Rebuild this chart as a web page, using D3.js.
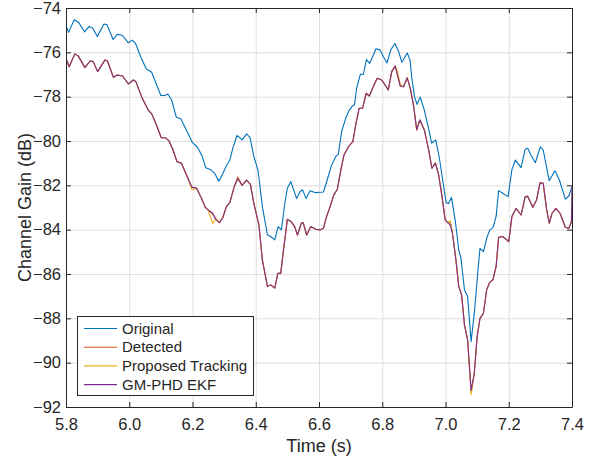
<!DOCTYPE html>
<html>
<head>
<meta charset="utf-8">
<script src="https://cdn.jsdelivr.net/npm/d3@7"></script>
<style>
body { margin: 0; background: #fff; }
svg { font-family: "Liberation Sans", Arial, sans-serif; }
</style>
</head>
<body>
<script>
// tick labels
var xTicks = [5.8, 6.0, 6.2, 6.4, 6.6, 6.8, 7.0, 7.2, 7.4];
var yTicks = [-92, -90, -88, -86, -84, -82, -80, -78, -76, -74];

// Original channel gain
var origT = [5.800, 5.808, 5.826, 5.840, 5.859, 5.873, 5.884, 5.899, 5.920, 5.930,
  5.949, 5.962, 5.978, 5.997, 6.010, 6.020, 6.037, 6.054, 6.071, 6.086,
  6.100, 6.112, 6.122, 6.134, 6.149, 6.163, 6.182, 6.199, 6.215, 6.230,
  6.242, 6.258, 6.270, 6.283, 6.295, 6.306, 6.318, 6.328, 6.341, 6.357,
  6.371, 6.382, 6.394, 6.407, 6.421, 6.437, 6.447, 6.460, 6.471, 6.481,
  6.492, 6.500, 6.511, 6.529, 6.540, 6.548, 6.559, 6.572, 6.589, 6.603,
  6.614, 6.624, 6.640, 6.654, 6.661, 6.672, 6.685, 6.695, 6.707, 6.712,
  6.719, 6.731, 6.740, 6.750, 6.760, 6.772, 6.780, 6.793, 6.803, 6.815,
  6.827, 6.840, 6.852, 6.862, 6.879, 6.888, 6.893, 6.902, 6.910, 6.920,
  6.932, 6.946, 6.956, 6.969, 6.981, 6.992, 7.002, 7.010, 7.019, 7.031,
  7.042, 7.049, 7.060, 7.070, 7.081, 7.091, 7.102, 7.109, 7.120, 7.130,
  7.140, 7.150, 7.160, 7.168, 7.181, 7.198, 7.210, 7.221, 7.239, 7.252,
  7.260, 7.270, 7.284, 7.300, 7.309, 7.328, 7.346, 7.360, 7.379, 7.390,
  7.400];
var origGain = [-74.77, -75.10, -74.53, -74.65, -75.08, -74.83, -74.90, -75.28, -74.72, -74.76,
  -75.42, -75.19, -75.23, -75.57, -75.45, -75.60, -76.23, -76.75, -76.90, -77.45,
  -77.95, -77.95, -77.88, -78.15, -78.93, -79.00, -79.55, -80.05, -80.27, -80.66,
  -81.21, -81.30, -81.46, -81.81, -81.50, -81.15, -80.86, -80.30, -79.75, -79.95,
  -79.68, -79.85, -80.70, -81.31, -82.96, -84.24, -84.31, -84.46, -83.86, -84.01,
  -82.81, -82.13, -81.83, -82.59, -82.29, -82.20, -82.59, -82.24, -82.33, -82.31,
  -82.30, -81.85, -81.08, -80.68, -80.59, -79.55, -78.95, -78.62, -78.40, -78.38,
  -77.62, -76.98, -77.00, -76.33, -76.50, -76.12, -75.84, -75.89, -76.18, -76.48,
  -75.89, -75.60, -75.97, -76.45, -76.03, -76.35, -77.10, -78.00, -78.35, -78.02,
  -78.55, -79.40, -80.10, -79.95, -80.80, -81.85, -82.78, -82.82, -82.54, -83.60,
  -84.92, -85.29, -86.72, -87.02, -89.05, -87.77, -85.97, -84.84, -84.99, -84.40,
  -84.01, -83.92, -83.41, -82.24, -82.36, -82.51, -81.28, -80.86, -81.20, -80.37,
  -80.33, -80.63, -80.98, -80.26, -80.41, -81.79, -81.34, -81.76, -82.62, -82.48,
  -82.06];

// Estimates (detected, tracked, GM-PHD EKF) share one time base
var estT = [5.800, 5.801, 5.810, 5.828, 5.839, 5.860, 5.876, 5.886, 5.900, 5.923,
  5.931, 5.950, 5.962, 5.979, 5.997, 6.013, 6.021, 6.039, 6.059, 6.072,
  6.086, 6.101, 6.114, 6.125, 6.137, 6.151, 6.165, 6.181, 6.198, 6.213,
  6.229, 6.240, 6.249, 6.264, 6.275, 6.285, 6.296, 6.307, 6.318, 6.332,
  6.343, 6.357, 6.371, 6.383, 6.394, 6.410, 6.421, 6.437, 6.447, 6.460,
  6.470, 6.479, 6.489, 6.500, 6.512, 6.523, 6.532, 6.544, 6.550, 6.561,
  6.574, 6.590, 6.603, 6.614, 6.624, 6.635, 6.647, 6.658, 6.669, 6.679,
  6.693, 6.707, 6.717, 6.727, 6.738, 6.749, 6.759, 6.774, 6.784, 6.798,
  6.809, 6.819, 6.830, 6.841, 6.848, 6.857, 6.867, 6.879, 6.889, 6.899,
  6.909, 6.919, 6.933, 6.947, 6.957, 6.968, 6.978, 6.989, 6.999, 7.007,
  7.015, 7.022, 7.033, 7.042, 7.051, 7.060, 7.070, 7.081, 7.091, 7.100,
  7.109, 7.120, 7.130, 7.139, 7.150, 7.160, 7.168, 7.181, 7.200, 7.210,
  7.223, 7.239, 7.252, 7.260, 7.276, 7.288, 7.299, 7.309, 7.320, 7.328,
  7.337, 7.349, 7.362, 7.379, 7.390, 7.398, 7.400];

var detGain = [-76.32, -76.32, -76.65, -76.07, -76.17, -76.69, -76.39, -76.42, -76.87, -76.35,
  -76.39, -77.13, -77.02, -77.07, -77.43, -77.25, -77.32, -78.00, -78.58, -78.80,
  -79.28, -79.85, -79.85, -79.98, -80.35, -80.93, -81.00, -81.53, -82.08, -82.13,
  -82.60, -82.98, -83.11, -83.30, -83.56, -83.68, -83.45, -82.96, -82.78, -82.06,
  -81.62, -82.00, -81.77, -81.96, -82.81, -83.79, -85.37, -86.57, -86.49, -86.64,
  -85.97, -85.97, -84.77, -83.53, -83.64, -83.86, -84.24, -83.71, -83.68, -84.24,
  -83.86, -83.98, -84.01, -83.94, -83.41, -82.96, -82.43, -82.18, -81.31, -80.63,
  -80.26, -80.03, -79.20, -78.52, -78.52, -77.85, -77.97, -77.47, -77.17, -77.25,
  -77.47, -77.70, -76.87, -76.62, -77.02, -77.52, -77.55, -77.15, -77.65, -78.40,
  -79.50, -79.05, -79.50, -80.41, -81.23, -81.00, -81.50, -82.51, -83.56, -83.68,
  -83.65, -84.16, -85.37, -86.57, -86.94, -88.30, -88.98, -91.30, -90.48, -88.83,
  -88.00, -87.77, -86.72, -86.40, -86.25, -85.67, -84.34, -84.31, -84.54, -83.41,
  -83.04, -83.34, -82.51, -82.50, -82.99, -82.66, -81.88, -81.91, -83.11, -83.71,
  -83.26, -83.04, -83.26, -83.89, -83.94, -83.64, -83.55];

var trackGain = [-76.32, -76.32, -76.65, -76.07, -76.17, -76.69, -76.39, -76.42, -76.87, -76.35,
  -76.39, -77.13, -77.02, -77.07, -77.43, -77.25, -77.32, -78.00, -78.58, -78.80,
  -79.28, -79.85, -79.85, -79.98, -80.35, -80.93, -81.00, -81.53, -82.20, -82.13,
  -82.60, -82.98, -83.11, -83.72, -83.50, -83.68, -83.45, -82.96, -82.78, -82.06,
  -81.70, -82.00, -81.77, -81.96, -82.81, -83.79, -85.37, -86.57, -86.49, -86.64,
  -85.97, -85.97, -84.77, -83.53, -83.64, -83.86, -84.24, -83.71, -83.68, -84.24,
  -83.86, -83.98, -84.01, -83.94, -83.41, -82.96, -82.43, -82.18, -81.31, -80.63,
  -80.26, -80.03, -79.20, -78.52, -78.52, -77.85, -77.97, -77.47, -77.17, -77.25,
  -77.47, -77.70, -76.87, -76.62, -76.85, -77.45, -77.55, -77.15, -77.65, -78.40,
  -79.50, -79.05, -79.50, -80.41, -81.23, -81.00, -81.50, -82.51, -83.56, -83.68,
  -83.60, -84.16, -85.37, -86.57, -87.00, -88.30, -88.98, -91.45, -90.48, -88.83,
  -88.00, -87.77, -86.72, -86.40, -86.25, -85.67, -84.34, -84.31, -84.54, -83.41,
  -83.04, -83.34, -82.51, -82.50, -82.99, -82.66, -81.88, -81.91, -83.11, -83.71,
  -83.26, -83.04, -83.26, -83.89, -83.94, -83.64, -83.60];

var ekfGain = [-74.77, -76.32, -76.65, -76.07, -76.17, -76.69, -76.39, -76.42, -76.87, -76.35,
  -76.39, -77.13, -77.02, -77.07, -77.43, -77.25, -77.32, -78.00, -78.58, -78.80,
  -79.28, -79.85, -79.85, -79.98, -80.35, -80.93, -81.00, -81.53, -82.08, -82.13,
  -82.60, -82.98, -83.11, -83.26, -83.56, -83.68, -83.45, -82.96, -82.78, -82.06,
  -81.70, -82.00, -81.77, -81.96, -82.81, -83.79, -85.37, -86.57, -86.49, -86.64,
  -85.97, -85.97, -84.77, -83.53, -83.64, -83.86, -84.24, -83.71, -83.68, -84.24,
  -83.86, -83.98, -84.01, -83.94, -83.41, -82.96, -82.43, -82.18, -81.31, -80.63,
  -80.26, -80.03, -79.20, -78.52, -78.52, -77.85, -77.97, -77.47, -77.17, -77.25,
  -77.47, -77.70, -76.87, -76.62, -77.02, -77.52, -77.55, -77.15, -77.65, -78.40,
  -79.50, -79.05, -79.50, -80.41, -81.23, -81.00, -81.50, -82.51, -83.56, -83.68,
  -83.79, -84.16, -85.37, -86.57, -86.94, -88.30, -88.98, -91.25, -90.48, -88.83,
  -88.00, -87.77, -86.72, -86.40, -86.25, -85.67, -84.34, -84.31, -84.54, -83.41,
  -83.04, -83.34, -82.51, -82.50, -82.99, -82.66, -81.88, -81.91, -83.11, -83.71,
  -83.26, -83.04, -83.26, -83.89, -83.94, -83.64, -82.06];

var seriesNames = ["Original", "Detected", "Proposed Tracking", "GM-PHD EKF"];
var seriesColors = ["#0072BD", "#D95319", "#EDB120", "#7E2F8E"];

//Width and height
var w = 597;
var h = 461;
var plotL = 66, plotR = 572, plotT = 8, plotB = 407;
var ink = "#262626";

var x = d3.scaleLinear().domain([5.8, 7.4]).range([plotL, plotR]);
var y = d3.scaleLinear().domain([-92, -74]).range([plotB, plotT]);

var svg = d3.select("body")
    .append("svg")
    .attr("width", w)
    .attr("height", h);

// grid
svg.append("g")
    .attr("transform", "translate(0," + plotB + ")")
    .call(d3.axisBottom(x).tickValues(xTicks).tickSize(-(plotB - plotT)).tickFormat(""))
    .call(g => g.select(".domain").remove())
    .call(g => g.selectAll("line").attr("stroke", "#dfdfdf"));
svg.append("g")
    .attr("transform", "translate(" + plotL + ",0)")
    .call(d3.axisLeft(y).tickValues(yTicks).tickSize(-(plotR - plotL)).tickFormat(""))
    .call(g => g.select(".domain").remove())
    .call(g => g.selectAll("line").attr("stroke", "#dfdfdf"));

// lines
svg.append("clipPath").attr("id", "clip")
    .append("rect").attr("x", plotL).attr("y", plotT)
    .attr("width", plotR - plotL).attr("height", plotB - plotT);

var plot = svg.append("g").attr("clip-path", "url(#clip)");
var line = d3.line().x(d => x(d[0])).y(d => y(d[1]));

var lineData = [
    d3.zip(origT, origGain),
    d3.zip(estT, detGain),
    d3.zip(estT, trackGain),
    d3.zip(estT, ekfGain)
];

lineData.forEach((pts, i) => {
    plot.append("path")
        .attr("d", line(pts))
        .attr("fill", "none")
        .attr("stroke", seriesColors[i])
        .attr("stroke-width", 1.1)
        .attr("stroke-linejoin", "round");
});

// axes, ticks inward
function styleAxis(g) {
    g.select(".domain").attr("stroke", ink);
    g.selectAll(".tick line").attr("stroke", ink);
    g.selectAll("text").attr("fill", ink).attr("font-size", "16.5px")
        .attr("font-family", "'Liberation Sans', Arial, sans-serif");
}

svg.append("g")
    .attr("transform", "translate(0," + plotB + ")")
    .call(d3.axisBottom(x).tickValues(xTicks).tickFormat(d3.format(".1f"))
        .tickSizeInner(-5).tickSizeOuter(0).tickPadding(11))
    .call(styleAxis);
svg.append("g")
    .attr("transform", "translate(0," + plotT + ")")
    .call(d3.axisTop(x).tickValues(xTicks).tickFormat("")
        .tickSizeInner(-5).tickSizeOuter(0))
    .call(styleAxis);
svg.append("g")
    .attr("transform", "translate(" + plotL + ",0)")
    .call(d3.axisLeft(y).tickValues(yTicks).tickFormat(d3.format("d"))
        .tickSizeInner(-5).tickSizeOuter(0).tickPadding(5))
    .call(styleAxis);
svg.append("g")
    .attr("transform", "translate(" + plotR + ",0)")
    .call(d3.axisRight(y).tickValues(yTicks).tickFormat("")
        .tickSizeInner(-5).tickSizeOuter(0))
    .call(styleAxis);

// axis labels
svg.append("text")
    .attr("x", (plotL + plotR) / 2)
    .attr("y", 452)
    .attr("text-anchor", "middle")
    .attr("font-size", "18px")
    .attr("fill", ink)
    .text("Time (s)");

svg.append("text")
    .attr("transform", "translate(31," + ((plotT + plotB) / 2) + ") rotate(-90)")
    .attr("text-anchor", "middle")
    .attr("font-size", "18px")
    .attr("fill", ink)
    .text("Channel Gain (dB)");

// legend
var legend = svg.append("g");
legend.append("rect")
    .attr("x", 77.5).attr("y", 316.5)
    .attr("width", 176).attr("height", 79)
    .attr("fill", "#fff")
    .attr("stroke", ink)
    .attr("stroke-width", 1);

seriesNames.forEach((name, i) => {
    var cy = 328.5 + i * 18.7;
    legend.append("line")
        .attr("x1", 84).attr("x2", 117)
        .attr("y1", cy).attr("y2", cy)
        .attr("stroke", seriesColors[i])
        .attr("stroke-width", 1.1);
    legend.append("text")
        .attr("x", 122)
        .attr("y", cy)
        .attr("dy", "0.35em")
        .attr("font-size", "15px")
        .attr("fill", ink)
        .text(name);
});
</script>
</body>
</html>
